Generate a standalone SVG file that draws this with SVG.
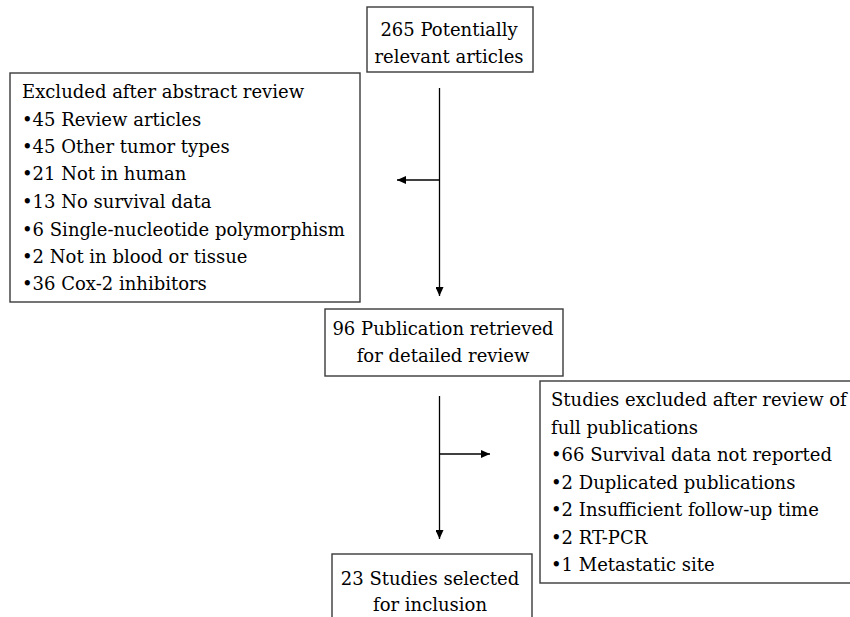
<svg xmlns="http://www.w3.org/2000/svg" width="850" height="617" viewBox="0 0 850 617">
<style>
.box{fill:#fff;stroke:#3a3a3a;stroke-width:1.4}
.t{font-family:'DejaVu Serif','Liberation Serif',serif;font-size:18px;fill:#000}
.c{text-anchor:middle}
.line{stroke:#000;stroke-width:1.3;fill:none;marker-end:url(#ah)}
</style>
<defs>
<marker id="ah" markerUnits="userSpaceOnUse" markerWidth="10" markerHeight="8" refX="9" refY="4" orient="auto">
<path d="M0,0 L9,4 L0,8 Z" fill="#000"/>
</marker>
</defs>
<rect width="850" height="617" fill="#fff"/>
<g id="connectors">
<line class="line" x1="439.5" y1="88" x2="439.5" y2="296"/>
<line class="line" x1="439.5" y1="180" x2="397" y2="180"/>
<line class="line" x1="439.5" y1="396" x2="439.5" y2="539"/>
<line class="line" x1="439.5" y1="454" x2="490" y2="454"/>
</g>
<g id="n1">
<rect class="box" x="367" y="7" width="166" height="65"/>
<text class="t c" x="449" y="36">265 Potentially</text>
<text class="t c" x="449" y="63">relevant articles</text>
</g>
<g id="n2">
<rect class="box" x="10" y="73" width="350" height="229"/>
<text class="t" x="22" y="98">Excluded after abstract review</text>
<text class="t" x="22" y="126">•45 Review articles</text>
<text class="t" x="22" y="153">•45 Other tumor types</text>
<text class="t" x="22" y="180">•21 Not in human</text>
<text class="t" x="22" y="208">•13 No survival data</text>
<text class="t" x="22" y="236">•6 Single-nucleotide polymorphism</text>
<text class="t" x="22" y="263">•2 Not in blood or tissue</text>
<text class="t" x="22" y="290">•36 Cox-2 inhibitors</text>
</g>
<g id="n3">
<rect class="box" x="325" y="309" width="238" height="67"/>
<text class="t c" x="443" y="335">96 Publication retrieved</text>
<text class="t c" x="443" y="362">for detailed review</text>
</g>
<g id="n4">
<rect class="box" x="540" y="381" width="320" height="202"/>
<text class="t" x="551" y="406">Studies excluded after review of</text>
<text class="t" x="551" y="434">full publications</text>
<text class="t" x="551" y="461">•66 Survival data not reported</text>
<text class="t" x="551" y="489">•2 Duplicated publications</text>
<text class="t" x="551" y="516">•2 Insufficient follow-up time</text>
<text class="t" x="551" y="544">•2 RT-PCR</text>
<text class="t" x="551" y="571">•1 Metastatic site</text>
</g>
<g id="n5">
<rect class="box" x="332" y="554" width="200" height="80"/>
<text class="t c" x="430" y="585">23 Studies selected</text>
<text class="t c" x="430" y="611">for inclusion</text>
</g>
</svg>
